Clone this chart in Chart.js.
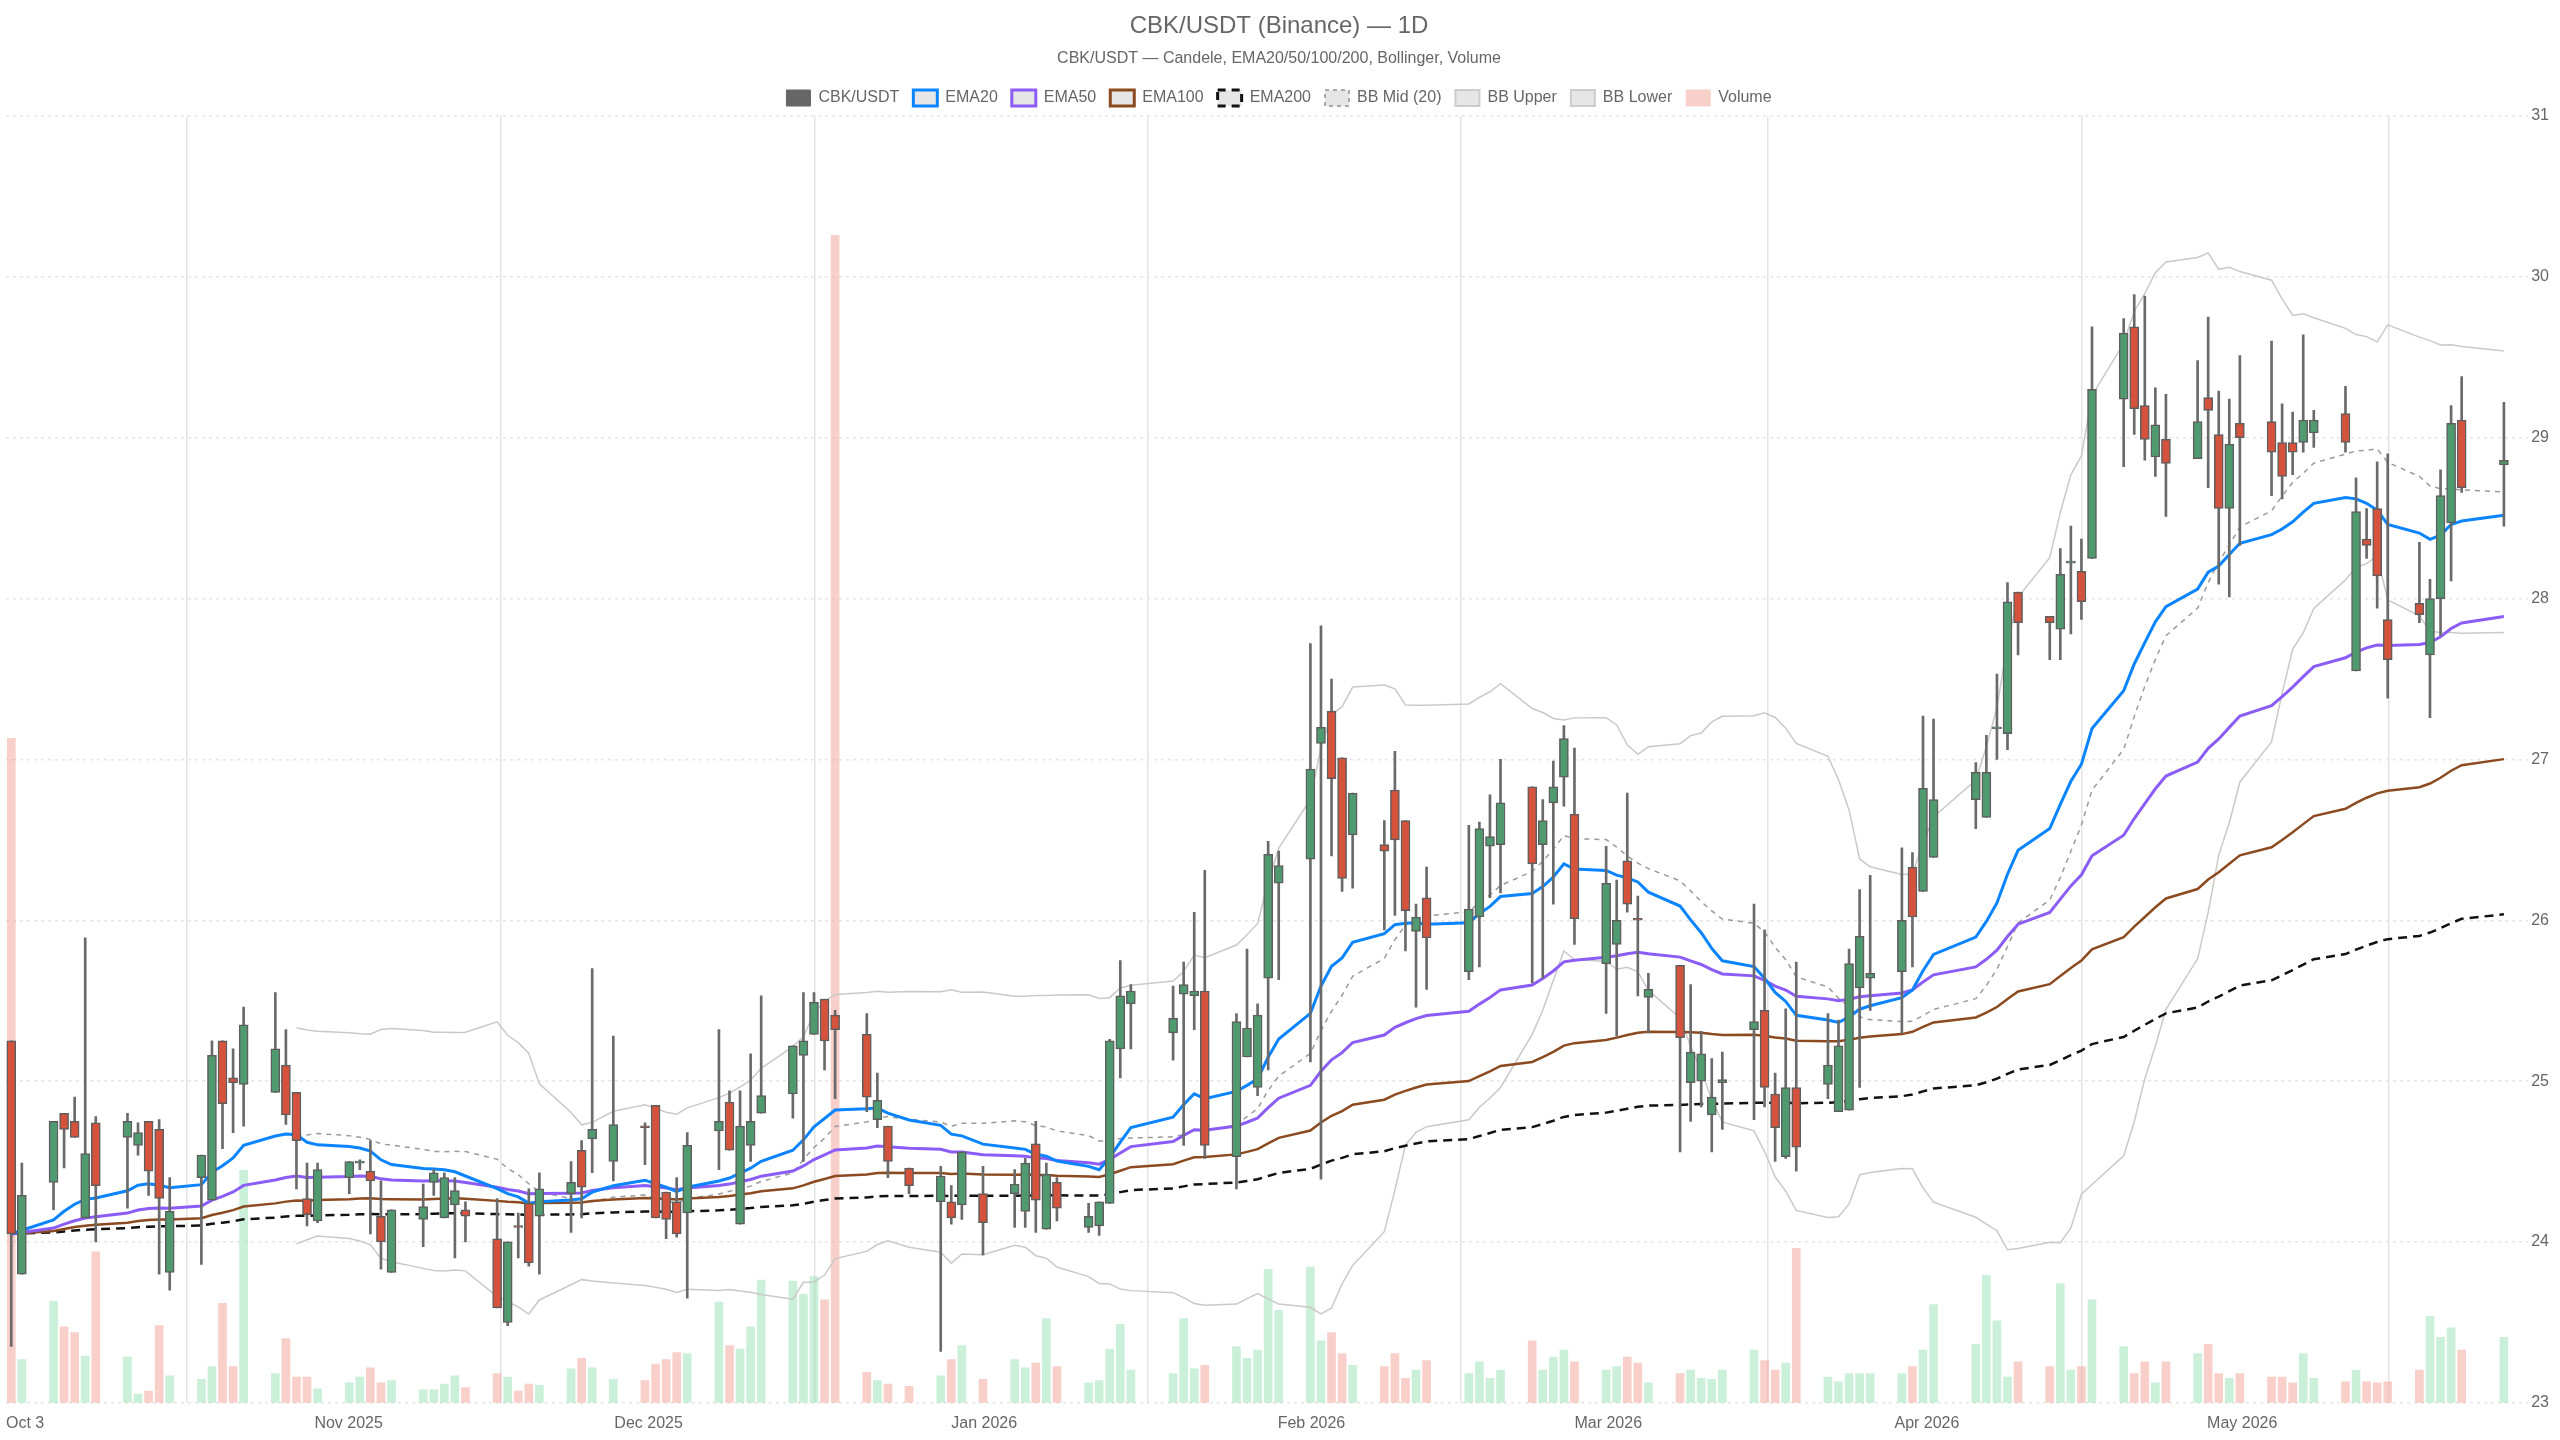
<!DOCTYPE html>
<html><head><meta charset="utf-8">
<script src="https://cdn.jsdelivr.net/npm/chart.js@4.4.1/dist/chart.umd.min.js"></script>
<style>html,body{margin:0;padding:0;background:#fff}#wrap{width:2560px;height:1440px}</style>
</head><body><div id="wrap"><canvas id="c"></canvas></div>
<script>
const days=[0,1,4,5,6,7,8,11,12,13,14,15,18,19,20,21,22,25,26,27,28,29,32,33,34,35,36,39,40,41,42,43,46,47,48,49,50,53,54,55,57,60,61,62,63,64,67,68,69,70,71,74,75,76,77,78,81,82,83,85,88,89,90,92,95,96,97,98,99,102,103,104,105,106,110,111,112,113,116,117,118,119,120,123,124,125,126,127,130,131,132,133,134,138,139,140,141,144,145,146,147,148,151,152,153,154,155,158,159,160,161,162,165,166,167,168,169,172,173,174,175,176,179,180,181,182,186,187,188,189,190,193,194,195,196,197,200,201,202,203,204,207,208,209,210,211,214,215,216,217,218,221,222,223,224,225,228,229,230,231,232,236];
const opens=[25.25,23.8,24.37,24.8,24.75,24.15,24.74,24.65,24.6,24.75,24.7,23.81,24.4,24.26,25.25,25.02,24.98,24.93,25.1,24.93,24.27,24.13,24.4,24.49,24.44,24.16,23.81,24.14,24.37,24.15,24.23,24.2,24.02,23.5,24.1,24.24,24.16,24.3,24.57,24.64,24.5,24.72,24.85,24.31,24.25,24.18,24.69,24.87,24.11,24.6,24.8,24.92,25.16,25.29,25.51,25.41,25.29,24.76,24.72,24.46,24.25,24.25,24.23,24.3,24.3,24.19,24.61,24.08,24.37,24.09,24.1,24.24,25.2,25.48,25.3,25.54,25.53,25.56,24.53,25.15,24.96,25.64,26.23,26.38,27.1,27.3,27.01,26.53,26.47,26.81,26.62,25.93,26.14,25.68,26.02,26.46,26.47,26.83,26.47,26.73,26.89,26.66,25.73,25.85,26.37,26.01,25.52,25.72,24.99,25.0,24.79,24.99,25.32,25.44,24.92,24.53,24.96,24.98,24.81,24.82,25.58,25.64,25.68,26.33,26.18,26.39,26.75,26.64,27.19,27.16,28.04,27.89,27.81,28.22,28.17,28.25,29.24,29.69,29.2,28.88,28.99,28.87,29.25,29.02,28.56,29.09,29.1,28.97,28.97,28.97,29.03,29.15,27.55,28.37,28.56,27.87,27.97,27.65,28.0,28.47,29.11,28.83];
const highs=[25.25,24.49,24.75,24.8,24.9,25.89,24.78,24.8,24.74,24.75,24.76,24.4,24.54,25.25,25.25,25.2,25.46,25.55,25.32,24.93,24.49,24.49,24.5,24.51,24.63,24.38,24.2,24.36,24.45,24.43,24.4,24.25,24.27,24.0,24.18,24.33,24.43,24.5,24.63,25.7,25.28,24.74,24.85,24.31,24.4,24.68,25.32,24.94,24.94,25.17,25.53,25.22,25.55,25.55,25.51,25.44,25.42,25.05,24.72,24.46,24.47,24.35,24.56,24.47,24.45,24.52,24.75,24.49,24.4,24.24,24.25,25.26,25.75,25.6,25.59,25.74,26.05,26.31,25.42,25.82,25.48,26.49,26.43,27.72,27.83,27.5,27.01,26.79,26.62,27.05,26.62,26.1,26.33,26.59,26.61,26.78,27.0,26.83,26.75,26.99,27.21,27.07,26.46,26.25,26.79,26.15,25.67,25.72,25.6,25.31,25.14,25.18,26.1,25.94,25.05,25.45,25.74,25.42,25.38,25.82,26.19,26.28,26.45,26.42,27.27,27.25,26.98,27.15,27.53,28.1,28.04,27.89,28.31,28.45,28.37,29.69,29.74,29.89,29.88,29.31,29.27,29.48,29.75,29.29,29.24,29.51,29.6,29.21,29.16,29.64,29.17,29.32,28.75,28.56,28.85,28.9,28.35,28.12,28.8,29.2,29.38,29.22];
const lows=[23.35,23.8,24.2,24.46,24.65,24.15,24.0,24.21,24.54,24.29,23.8,23.7,23.86,24.26,24.58,24.68,24.72,24.93,24.73,24.33,24.1,24.12,24.3,24.45,24.05,23.83,23.81,23.97,24.29,24.15,23.9,24.0,23.59,23.48,23.9,23.85,23.8,24.06,24.15,24.43,24.38,24.48,24.15,24.02,24.03,23.65,24.45,24.57,24.11,24.5,24.8,24.77,24.5,25.29,25.07,24.89,24.81,24.71,24.4,24.3,23.32,24.11,24.14,23.92,24.09,24.09,24.06,24.08,24.13,24.06,24.04,24.24,25.02,25.2,25.13,24.6,25.32,24.52,24.33,25.15,24.91,25.07,25.63,25.12,24.39,26.4,26.18,26.2,25.94,26.03,25.81,25.46,25.57,25.63,25.71,26.14,26.17,25.61,25.64,26.1,26.71,25.85,25.42,25.28,26.05,25.53,25.3,24.56,24.75,24.84,24.56,24.7,24.76,24.84,24.5,24.52,24.44,24.89,24.81,24.82,24.96,25.44,25.3,25.71,26.18,26.39,26.57,26.64,27.0,27.06,27.65,27.62,27.62,27.78,27.87,28.25,28.82,29.02,28.86,28.76,28.51,28.87,28.69,28.09,28.01,28.33,28.64,28.62,28.77,28.91,28.94,28.91,27.55,28.25,27.94,27.38,27.85,27.26,27.77,28.11,28.66,28.45];
const closes=[24.05,24.29,24.75,24.7,24.65,24.55,24.35,24.75,24.68,24.44,24.27,24.19,24.54,25.16,24.86,24.99,25.35,25.2,24.79,24.63,24.17,24.45,24.5,24.49,24.38,24.0,24.2,24.22,24.43,24.4,24.32,24.16,23.59,24.0,24.09,23.87,24.33,24.37,24.34,24.7,24.73,24.71,24.15,24.14,24.05,24.6,24.75,24.57,24.72,24.75,24.91,25.22,25.25,25.49,25.25,25.32,24.9,24.88,24.5,24.35,24.41,24.15,24.56,24.12,24.36,24.49,24.26,24.42,24.21,24.16,24.25,25.25,25.53,25.56,25.39,25.6,25.56,24.6,25.37,25.33,25.41,26.41,26.34,26.94,27.2,26.88,26.26,26.79,26.43,26.5,26.06,26.02,25.89,26.07,26.57,26.52,26.73,26.35,26.62,26.83,27.13,26.01,26.23,26.0,26.1,26.0,25.57,25.27,25.18,25.17,24.9,25.01,25.37,24.96,24.71,24.96,24.59,25.1,25.22,25.73,25.9,25.67,26.0,26.02,26.82,26.75,26.92,26.92,27.2,27.98,27.85,27.85,28.15,28.23,27.98,29.3,29.65,29.18,28.99,29.08,28.84,29.1,29.17,28.56,28.96,29.0,28.91,28.76,28.91,29.11,29.11,28.97,28.54,28.33,28.14,27.62,27.9,28.0,28.64,29.09,28.69,28.86];
const volumes=[568,37,87,65,60,40,129,39,7.5,10,66,23,20,31,85,31,199,25,55,22,22,12,17,22,30,17,19,11,11,16,23,13,25,22,10,16,15,29,38,30,20,19,33,37,43,42,86,49,46,65,105,104,93,108,88,998,26,19,16,14,23,37,49,20,37,30,34,72,31,17,19,46,67,28,25,72,29,32,48,38,45,114,79,116,53,60,42,32,31,42,21,28,36,25,35,21,28,53,28,39,45,35,28,31,39,34,17,25,28,21,20,28,45,36,28,34,132,22,18,25,25,25,25,31,45,84,50,109,70,22,35,31,102,28,31,88,48,25,35,17,35,42,50,25,21,25,22,22,17,42,21,18,28,18,17,18,28,74,56,64,45,56];
const monthTicks=[-0.5,28.7,57.1,89,119.9,148,178.3,207.9];
const monthLabels=['Oct 3','Nov 2025','Dec 2025','Jan 2026','Feb 2026','Mar 2026','Apr 2026','May 2026'];
const gridDays=[16.6,46.3,76.1,107.6,137.2,166.3,196,225.1];
const priceTicks=[23,24,25,26,27,28,29,30,31];

function ema(p){const a=2/(p+1);let e=closes[0];return closes.map((c,i)=>{e=i?a*c+(1-a)*e:c;return {x:days[i],y:e};});}
const bbMid=[],bbUp=[],bbLo=[];
closes.forEach((c,i)=>{if(i<19)return;const s=closes.slice(i-19,i+1);const m=s.reduce((a,b)=>a+b,0)/20;const sd=Math.sqrt(s.reduce((a,b)=>a+(b-m)*(b-m),0)/20);bbMid.push({x:days[i],y:m});bbUp.push({x:days[i],y:m+2*sd});bbLo.push({x:days[i],y:m-2*sd});});
const up=closes.map((c,i)=>c>=opens[i]);
const UPC='#4f9a6e',DNC='#d5533c';
const body=days.map((d,i)=>({x:d,y:[opens[i],closes[i]]}));
const wick=days.map((d,i)=>({x:d,y:[lows[i],highs[i]]}));
const vol=days.map((d,i)=>({x:d,y:volumes[i]}));
const line=(label,data,color,w,dash,order)=>({type:'line',label,data,borderColor:color,backgroundColor:color,borderWidth:w,borderDash:dash||[],pointRadius:0,tension:0,yAxisID:'y',xAxisID:'x',order});
new Chart(document.getElementById('c'),{
 data:{datasets:[
  {type:'bar',label:'Volume',data:vol,yAxisID:'yv',xAxisID:'x',barThickness:8,grouped:false,backgroundColor:up.map(u=>u?'rgba(150,225,180,0.5)':'rgba(244,160,150,0.5)'),order:20},
  line('BB Upper',bbUp,'#c9c9c9',1.5,null,10),
  line('BB Lower',bbLo,'#c9c9c9',1.5,null,10),
  line('BB Mid (20)',bbMid,'#9a9a9a',1.5,[5,5],9),
  line('EMA200',ema(200),'#111',2.5,[9,6],6),
  line('EMA100',ema(100),'#8b4a1f',2.5,null,5),
  line('EMA50',ema(50),'#8b5cf6',3,null,4),
  line('EMA20',ema(20),'#0a84ff',3,null,3),
  {type:'bar',label:'wick',data:wick,yAxisID:'y',xAxisID:'x',barThickness:2,grouped:false,backgroundColor:'#6a6a6a',order:2},
  {type:'bar',label:'CBK/USDT',data:body,yAxisID:'y',xAxisID:'x',barThickness:9,grouped:false,minBarLength:2,backgroundColor:up.map(u=>u?UPC:DNC),borderColor:'#5e5e5e',borderWidth:1.5,borderSkipped:false,order:1}
 ]},
 options:{responsive:true,maintainAspectRatio:false,animation:false,
  layout:{padding:{left:6,right:8,top:6,bottom:4}},
  plugins:{
   title:{display:true,text:'CBK/USDT (Binance) — 1D',color:'#666',font:{size:24,weight:'normal'},padding:{top:6,bottom:8}},
   subtitle:{display:true,text:'CBK/USDT — Candele, EMA20/50/100/200, Bollinger, Volume',color:'#666',font:{size:16},padding:{bottom:8}},
   legend:{display:true,onClick:null,labels:{color:'#666',font:{size:16},boxWidth:24,boxHeight:16,padding:14,
    generateLabels:()=>[
     {text:'CBK/USDT',fillStyle:'#666',strokeStyle:'#666',lineWidth:1},
     {text:'EMA20',fillStyle:'#e6e6e6',strokeStyle:'#0a84ff',lineWidth:3},
     {text:'EMA50',fillStyle:'#e6e6e6',strokeStyle:'#8b5cf6',lineWidth:3},
     {text:'EMA100',fillStyle:'#e6e6e6',strokeStyle:'#8b4a1f',lineWidth:3},
     {text:'EMA200',fillStyle:'#e6e6e6',strokeStyle:'#111',lineWidth:3,lineDash:[8,6]},
     {text:'BB Mid (20)',fillStyle:'#e6e6e6',strokeStyle:'#aaa',lineWidth:2,lineDash:[4,4]},
     {text:'BB Upper',fillStyle:'#e6e6e6',strokeStyle:'#ccc',lineWidth:2},
     {text:'BB Lower',fillStyle:'#e6e6e6',strokeStyle:'#ccc',lineWidth:2},
     {text:'Volume',fillStyle:'#f8cfc9',strokeStyle:'#f8cfc9',lineWidth:1}
    ].map(o=>Object.assign({fontColor:'#666',hidden:false},o))}},
   tooltip:{enabled:false}},
  scales:{
   x:{type:'linear',min:-0.5,max:238.3,offset:false,
    afterBuildTicks:s=>{s.ticks=monthTicks.map(v=>({value:v}));},
    ticks:{autoSkip:false,maxRotation:0,align:'start',color:'#666',font:{size:16},callback:(v)=>{const k=monthTicks.indexOf(v);return k<0?'':monthLabels[k];}},
    grid:{display:false},border:{display:false}},
   xg:{type:'linear',min:-0.5,max:238.3,position:'bottom',
    afterBuildTicks:s=>{s.ticks=gridDays.map(v=>({value:v}));},
    ticks:{display:false},grid:{color:'#e4e4e4',lineWidth:1.5,drawTicks:false},border:{display:false}},
   y:{position:'right',min:23,max:31,
    afterBuildTicks:s=>{s.ticks=priceTicks.map(v=>({value:v}));},
    ticks:{color:'#666',font:{size:16}},
    grid:{color:'#e6e6e6',lineWidth:1.5,drawTicks:false},border:{display:false,dash:[3,4]}},
   yv:{display:false,min:0,max:1100}
  }}
});
</script></body></html>
